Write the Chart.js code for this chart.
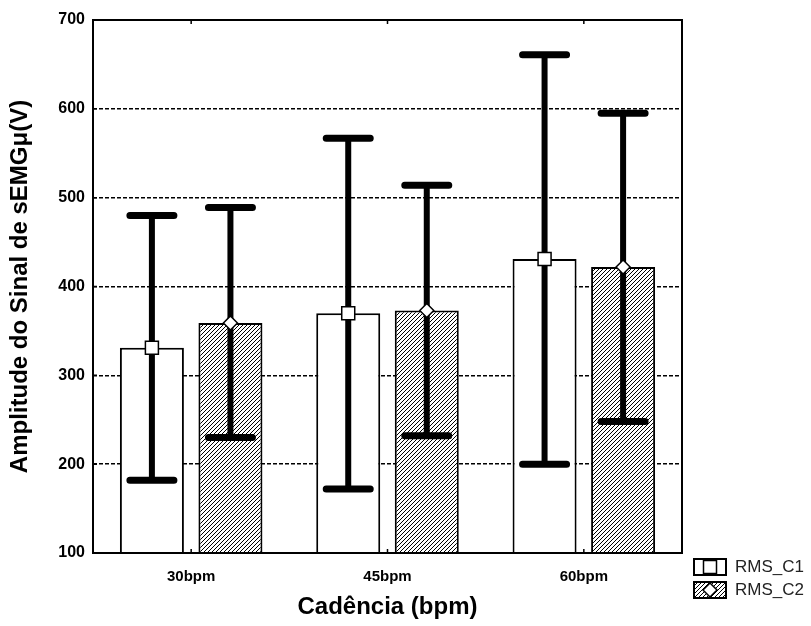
<!DOCTYPE html>
<html>
<head>
<meta charset="utf-8">
<title>Amplitude do sinal de sEMG por cadência</title>
<script src="https://cdn.jsdelivr.net/npm/chart.js"></script>
<style>
  html, body { margin: 0; padding: 0; background: #fff; }
</style>
</head>
<body>
<canvas id="grafico" width="811" height="626"></canvas>
<script>
// dados
const cadencias = ['30bpm', '45bpm', '60bpm'];
const series = ['RMS_C1', 'RMS_C2'];
const mediaC1 = [331, 370, 431];
const mediaC2 = [359, 373, 422];
const supC1 = [480, 567, 661];
const infC1 = [182, 172, 200];
const supC2 = [489, 514, 595];
const infC2 = [230, 232, 248];
const yTicks = [100, 200, 300, 400, 500, 600, 700];

const fonte = '"Liberation Sans", Arial, sans-serif';
const canvas = document.getElementById('grafico');
const ctx = canvas.getContext('2d');

// padrão hachurado para a série C2
function hachura() {
  const c = document.createElement('canvas');
  c.width = 4; c.height = 4;
  const g = c.getContext('2d');
  g.fillStyle = '#fff';
  g.fillRect(0, 0, 4, 4);
  g.strokeStyle = '#000';
  g.lineWidth = 1;
  g.beginPath();
  g.moveTo(0, 4); g.lineTo(4, 0);
  g.moveTo(-1, 1); g.lineTo(1, -1);
  g.moveTo(3, 5); g.lineTo(5, 3);
  g.stroke();
  return ctx.createPattern(c, 'repeat');
}
const padrao = hachura();

function marcador(c, tipo, x, y) {
  c.save();
  c.fillStyle = '#fff';
  c.strokeStyle = '#000';
  c.lineWidth = 1.5;
  c.beginPath();
  if (tipo === 0) {
    c.rect(x - 6.5, y - 6.5, 13, 13);
  } else {
    c.moveTo(x, y - 7); c.lineTo(x + 7, y); c.lineTo(x, y + 7); c.lineTo(x - 7, y); c.closePath();
  }
  c.fill();
  c.stroke();
  c.restore();
}

// barras de erro + marcadores da média
const barrasErro = {
  id: 'barrasErro',
  afterDatasetsDraw(chart) {
    const c = chart.ctx, y = chart.scales.y;
    c.save();
    [[supC1, infC1], [supC2, infC2]].forEach(([sup, inf], i) => {
      chart.getDatasetMeta(i).data.forEach((bar, j) => {
        const yS = y.getPixelForValue(sup[j]);
        const yI = y.getPixelForValue(inf[j]);
        c.strokeStyle = '#000';
        c.lineWidth = 6;
        c.lineCap = 'butt';
        c.beginPath();
        c.moveTo(bar.x, yS); c.lineTo(bar.x, yI);
        c.stroke();
        c.lineWidth = 7;
        c.lineCap = 'round';
        c.beginPath();
        c.moveTo(bar.x - 22, yS); c.lineTo(bar.x + 22, yS);
        c.moveTo(bar.x - 22, yI); c.lineTo(bar.x + 22, yI);
        c.stroke();
        marcador(c, i, bar.x, bar.y);
      });
    });
    c.restore();
  }
};

// moldura, marcas internas e legenda
const moldura = {
  id: 'moldura',
  afterDraw(chart) {
    const c = chart.ctx, a = chart.chartArea;
    const x = chart.scales.x, y = chart.scales.y;
    c.save();
    c.strokeStyle = '#000';
    c.lineWidth = 2;
    c.strokeRect(a.left, a.top, a.right - a.left, a.bottom - a.top);
    c.lineWidth = 1.5;
    c.beginPath();
    y.ticks.forEach((t, i) => {
      const py = y.getPixelForTick(i);
      c.moveTo(a.left, py); c.lineTo(a.left + 4, py);
    });
    x.ticks.forEach((t, i) => {
      const px = x.getPixelForTick(i);
      c.moveTo(px, a.top); c.lineTo(px, a.top + 4);
      c.moveTo(px, a.bottom); c.lineTo(px, a.bottom - 4);
    });
    c.stroke();

    // legenda
    const lx = 694, ly = [559, 582];
    series.forEach((nome, i) => {
      c.fillStyle = i === 0 ? '#fff' : padrao;
      c.fillRect(lx, ly[i], 32, 16);
      c.lineWidth = 2;
      c.strokeStyle = '#000';
      c.strokeRect(lx, ly[i], 32, 16);
      marcador(c, i, lx + 16, ly[i] + 8);
      c.fillStyle = '#222';
      c.font = '17px ' + fonte;
      c.textBaseline = 'middle';
      c.textAlign = 'left';
      c.fillText(nome, lx + 41, ly[i] + 8);
    });
    c.restore();
  }
};

new Chart(ctx, {
  type: 'bar',
  data: {
    labels: cadencias,
    datasets: [
      {
        label: series[0],
        data: mediaC1,
        backgroundColor: '#fff',
        borderColor: '#000',
        borderWidth: 2,
        categoryPercentage: 0.8,
        barPercentage: 0.815
      },
      {
        label: series[1],
        data: mediaC2,
        backgroundColor: padrao,
        borderColor: '#000',
        borderWidth: 2,
        categoryPercentage: 0.8,
        barPercentage: 0.815
      }
    ]
  },
  options: {
    responsive: false,
    animation: false,
    layout: { padding: { top: 20, right: 129, left: 0, bottom: 0 } },
    plugins: {
      legend: { display: false },
      tooltip: { enabled: false }
    },
    scales: {
      x: {
        offset: true,
        grid: { display: false, drawTicks: false },
        border: { display: false },
        ticks: { color: '#000', font: { family: fonte, size: 15, weight: 'bold' }, padding: 15 },
        title: {
          display: true,
          text: 'Cadência (bpm)',
          color: '#000',
          font: { family: fonte, size: 24, weight: 'bold' },
          padding: { top: 0, bottom: 4 }
        },
        afterFit(s) { s.height = 73; }
      },
      y: {
        min: 100,
        max: 700,
        afterBuildTicks(s) { s.ticks = yTicks.map(v => ({ value: v })); },
        grid: { color: '#000', lineWidth: 1.5, drawTicks: false },
        border: { display: false, dash: [4, 2] },
        ticks: { color: '#000', font: { family: fonte, size: 16, weight: 'bold' }, padding: 8 },
        title: {
          display: true,
          text: 'Amplitude do Sinal de sEMGμ(V)',
          color: '#000',
          font: { family: fonte, size: 24, weight: 'bold' },
          padding: { top: 6, bottom: 0 }
        },
        afterFit(s) { s.width = 93; }
      }
    }
  },
  plugins: [barrasErro, moldura]
});
</script>
</body>
</html>
